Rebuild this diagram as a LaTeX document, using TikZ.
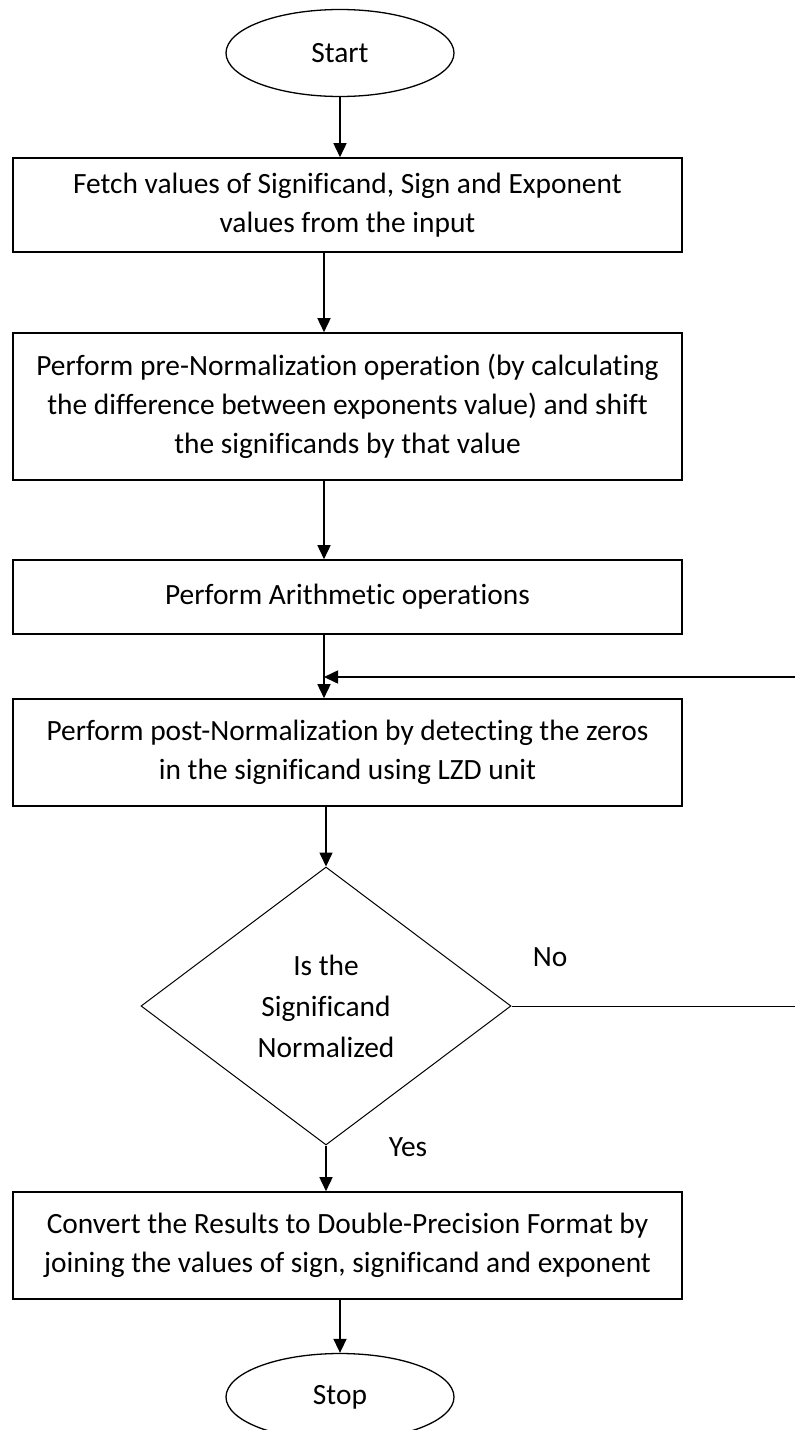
\documentclass[tikz,border=0pt]{standalone}
\usepackage{fontspec}
\setmainfont{Carlito}[Ligatures={TeX,NoCommon}]
\usetikzlibrary{shapes.geometric,arrows.meta}
\begin{document}
\begin{tikzpicture}[x=1pt,y=-1pt,
    box/.style={rectangle,draw,line width=1.6pt,minimum width=669pt,inner sep=0pt,align=center,font=\fontsize{29.4}{39}\selectfont},
    term/.style={ellipse,draw,line width=1.3pt,minimum width=228pt,minimum height=87pt,inner sep=0pt,font=\fontsize{29.4}{36}\selectfont},
    lbl/.style={font=\fontsize{29.4}{36}\selectfont},
    arr/.style={line width=1.6pt,-{Triangle[length=14pt,width=13pt]}}]
        \useasboundingbox (0,0) rectangle (795,1430);
        \coordinate (tr) at (324,0);
        \node[term] (st) at (340,53) {Start};
        \node[box,minimum height=94pt] (p1) at (347.5,205) {Fetch values of Significand, Sign and Exponent\\values from the input};
        \node[box,minimum height=147pt] (p2) at (347.5,406.5) {Perform pre-Normalization operation (by calculating\\the difference between exponents value) and shift\\the significands by that value};
        \node[box,minimum height=74pt] (p3) at (347.5,597) {Perform Arithmetic operations};
        \node[box,minimum height=107pt] (p4) at (347.5,752.5) {Perform post-Normalization by detecting the zeros\\in the significand using LZD unit};
        \node[diamond,draw,line width=1pt,minimum width=370pt,minimum height=278pt,inner sep=0pt,align=center,font=\fontsize{29.4}{41}\selectfont] (d) at (326,1006) {Is the\\Significand\\Normalized};
        \node[box,minimum height=107pt] (p5) at (347.5,1245.5) {Convert the Results to Double-Precision Format by\\joining the values of sign, significand and exponent};
        \node[term] (sp) at (340,1397) {Stop};
        \node[lbl] (no) at (550,957) {No};
        \node[lbl] (yes) at (408,1147) {Yes};
        \coordinate (fb1) at (797,1006);
        \coordinate (fb2) at (797,677);
        \draw[arr] (st.south) -- (st.south |- p1.north);
        \draw[arr] (p1.south -| tr) -- (p2.north -| tr);
        \draw[arr] (p2.south -| tr) -- (p3.north -| tr);
        \draw[arr] (p3.south -| tr) -- (p4.north -| tr);
        \draw[arr] (p4.south -| d) -- (d.north);
        \draw[arr] (d.south) -- (d.south |- p5.north);
        \draw[arr] (p5.south -| sp) -- (sp.north);
        \draw[line width=1pt] (d.east) -- (fb1);
        \draw[arr] (fb2) -- (fb2 -| tr);
    \end{tikzpicture}
\end{document}
